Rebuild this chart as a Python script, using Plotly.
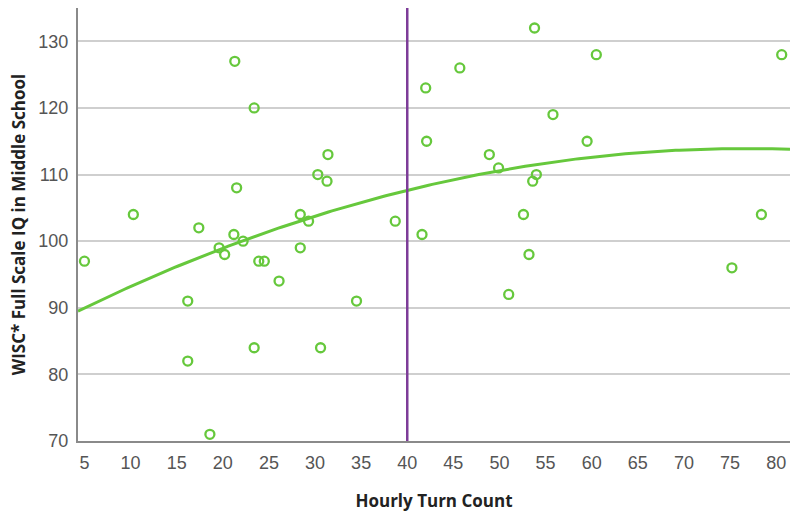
import numpy as np
import plotly.graph_objects as go

# Data
turn_count = [5.0, 10.3, 16.2, 16.2, 17.4, 18.6, 19.6, 20.2, 21.2, 21.3, 21.5, 22.2, 23.4, 23.4, 23.9, 24.5,
              26.1, 28.4, 28.4, 29.3, 30.3, 30.6, 31.3, 31.4, 34.5, 38.7, 41.6, 42.0, 42.1, 45.7, 48.9,
              49.9, 51.0, 52.6, 53.2, 53.6, 53.8, 54.0, 55.8, 59.5, 60.5, 75.2, 78.4, 80.6]
iq_scores = [97, 104, 91, 82, 102, 71, 99, 98, 101, 127, 108, 100, 120, 84, 97, 97,
             94, 104, 99, 103, 110, 84, 109, 113, 91, 103, 101, 123, 115, 126, 113,
             111, 92, 104, 98, 109, 132, 110, 119, 115, 128, 96, 104, 128]
# Quadratic fit line coefficients (a + b*x + c*x^2)
fit_coef = [86.51, 0.7145, -0.00466]
cutoff_x = 40
x_ticks = list(range(5, 81, 5))
y_ticks = list(range(70, 131, 10))

green = "#66c83c"
purple = "#7d3c98"

fig = go.Figure()

xs = np.linspace(4.3, 81.5, 200)
ys = fit_coef[0] + fit_coef[1] * xs + fit_coef[2] * xs ** 2
fig.add_trace(go.Scatter(x=xs, y=ys, mode="lines",
                         line=dict(color=green, width=3), hoverinfo="skip",
                         showlegend=False))

fig.add_trace(go.Scatter(x=turn_count, y=iq_scores, mode="markers",
                         marker=dict(symbol="circle-open", size=9, color=green,
                                     line=dict(width=2.3, color=green)),
                         showlegend=False))

fig.add_shape(type="line", x0=cutoff_x, x1=cutoff_x, y0=0, y1=1, xref="x", yref="paper",
              line=dict(color=purple, width=2.5))

fig.update_layout(
    width=791, height=512,
    margin=dict(l=78, r=1, t=8, b=71),
    plot_bgcolor="white", paper_bgcolor="white",
    font=dict(family="Liberation Sans, Arial, sans-serif", size=18, color="#555555"),
)
fig.update_xaxes(range=[4.3, 81.5], tickvals=x_ticks, ticktext=[str(v) for v in x_ticks],
                 showgrid=False, zeroline=False, showline=True, linecolor="#8a8a8a",
                 linewidth=2, ticks="", ticklabelstandoff=4,
                 title=dict(text="<b>Hourly Turn Count</b>",
                            font=dict(family="Open Sans, sans-serif", size=17, color="#222222"),
                            standoff=24))
fig.update_yaxes(range=[70, 135], tickvals=y_ticks, ticktext=[str(v) for v in y_ticks],
                 showgrid=True, gridcolor="#cfcfcf", gridwidth=1.5, zeroline=False,
                 showline=True, linecolor="#8a8a8a", linewidth=2, ticks="",
                 ticklabelstandoff=4,
                 title=dict(text="<b>WISC* Full Scale IQ in Middle School</b>",
                            font=dict(family="Open Sans, sans-serif", size=17, color="#222222"),
                            standoff=8))

fig.write_html("out.html")
